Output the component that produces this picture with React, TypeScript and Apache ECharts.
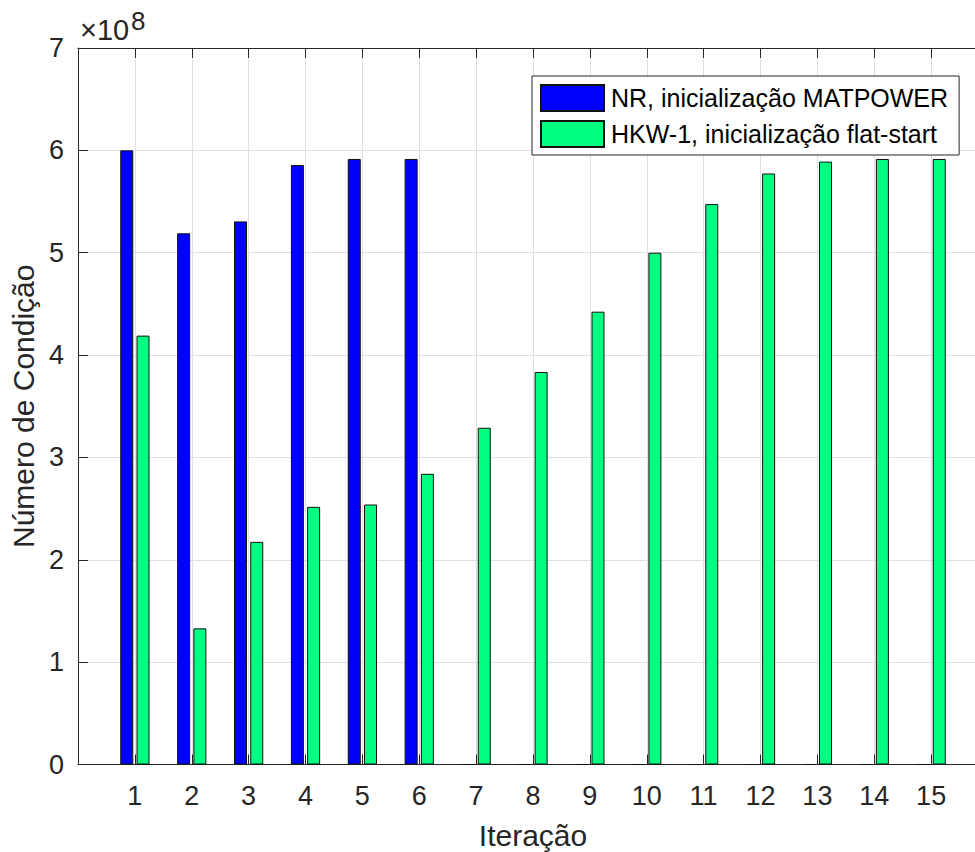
import React, { useEffect, useRef } from "react";
import * as echarts from "echarts";

// Iterations (x positions)
const iterations = [1, 2, 3, 4, 5, 6, 7, 8, 9, 10, 11, 12, 13, 14, 15];
// Condition numbers, in units of 1e8
const nrValues = [6.0, 5.19, 5.306, 5.857, 5.916, 5.916, 0, 0, 0, 0, 0, 0, 0, 0, 0];
const hkwValues = [4.19, 1.33, 2.175, 2.517, 2.54, 2.84, 3.29, 3.835, 4.424, 5.0, 5.475, 5.774, 5.89, 5.916, 5.916];
const seriesNames = ["NR, inicialização MATPOWER", "HKW-1, inicialização flat-start"];
const xAxisTitle = "Iteração";
const yAxisTitle = "Número de Condição";
const yTicks = [0, 1, 2, 3, 4, 5, 6, 7];

const FONT = "'Liberation Sans', Arial, Helvetica, sans-serif";
const INK = "#262626";

export default function App() {
  const ref = useRef<HTMLDivElement>(null);
  useEffect(() => {
    if (!ref.current) return;
    const chart = echarts.init(ref.current, undefined, { renderer: "svg" });
    const first = iterations[0] - 1;
    const last = iterations[iterations.length - 1] + 1;
    // axis categories span 0..16 so that the plot box matches the original x-limits
    const cats = [String(first), ...iterations.map(String), String(last)];
    const yMax = yTicks[yTicks.length - 1];
    const catAxisBase = {
      type: "category",
      data: cats,
      boundaryGap: false,
      axisLine: { show: true, onZero: false, lineStyle: { color: INK, width: 1 } },
      axisTick: { show: true, inside: true, length: 10, interval: 0, lineStyle: { color: INK } },
    };
    chart.setOption({
      animation: false,
      backgroundColor: "#ffffff",
      textStyle: { fontFamily: FONT, color: INK },
      grid: { left: 78, top: 48, right: -13, bottom: 87.5, containLabel: false, outerBoundsMode: "none" },
      legend: {
        show: true,
        left: 532,
        top: 76,
        orient: "vertical",
        itemWidth: 63,
        itemHeight: 26,
        itemGap: 8,
        padding: [8, 11, 7, 8],
        backgroundColor: "#ffffff",
        borderColor: INK,
        borderWidth: 1,
        borderRadius: 0,
        icon: "rect",
        textStyle: { fontFamily: FONT, fontSize: 25, color: "#000000", lineHeight: 26, padding: [0, 0, 0, 2] },
        data: seriesNames,
      },
      xAxis: [
        {
          ...catAxisBase,
          position: "bottom",
          axisLabel: {
            interval: 0,
            fontFamily: FONT,
            fontSize: 27,
            color: INK,
            margin: 18,
            formatter: (v: string) => (v === cats[0] || v === cats[cats.length - 1] ? "" : v),
          },
          splitLine: { show: true, interval: 0, lineStyle: { color: "#e0e0e0", width: 1 } },
          name: xAxisTitle,
          nameLocation: "middle",
          nameGap: 56,
          nameTextStyle: { fontFamily: FONT, fontSize: 30, color: INK },
        },
        {
          ...catAxisBase,
          position: "top",
          axisLabel: { show: false },
          splitLine: { show: false },
        },
      ],
      yAxis: [
        {
          type: "value",
          min: 0,
          max: yMax,
          interval: 1,
          axisLine: { show: true, onZero: false, lineStyle: { color: INK, width: 1 } },
          axisTick: { show: true, inside: true, length: 10, lineStyle: { color: INK } },
          axisLabel: { fontFamily: FONT, fontSize: 27, color: INK, margin: 14 },
          splitLine: { show: true, lineStyle: { color: "#e0e0e0", width: 1 } },
          name: yAxisTitle,
          nameLocation: "middle",
          nameGap: 34,
          nameRotate: 90,
          nameTextStyle: { fontFamily: FONT, fontSize: 30, color: INK },
        },
      ],
      graphic: [
        {
          type: "text",
          left: 80,
          top: 15,
          style: { text: "×10", fontFamily: FONT, fontSize: 29, fill: INK },
        },
        {
          type: "text",
          left: 131,
          top: 8,
          style: { text: "8", fontFamily: FONT, fontSize: 26, fill: INK },
        },
      ],
      series: [
        {
          name: seriesNames[0],
          type: "bar",
          xAxisIndex: 0,
          yAxisIndex: 0,
          barWidth: 13,
          barGap: "25%",
          itemStyle: { color: "#0000ff", borderColor: "#111111", borderWidth: 1 },
          data: iterations.map((it, i) => [String(it), nrValues[i]]),
        },
        {
          name: seriesNames[1],
          type: "bar",
          xAxisIndex: 0,
          yAxisIndex: 0,
          barWidth: 13,
          barGap: "25%",
          itemStyle: { color: "#00ff80", borderColor: "#111111", borderWidth: 1 },
          data: iterations.map((it, i) => [String(it), hkwValues[i]]),
        },
      ],
    });
    return () => chart.dispose();
  }, []);
  return (
    <div
      ref={ref}
      style={{ position: "fixed", left: 0, top: 0, width: 975, height: 852, background: "#ffffff" }}
    />
  );
}
